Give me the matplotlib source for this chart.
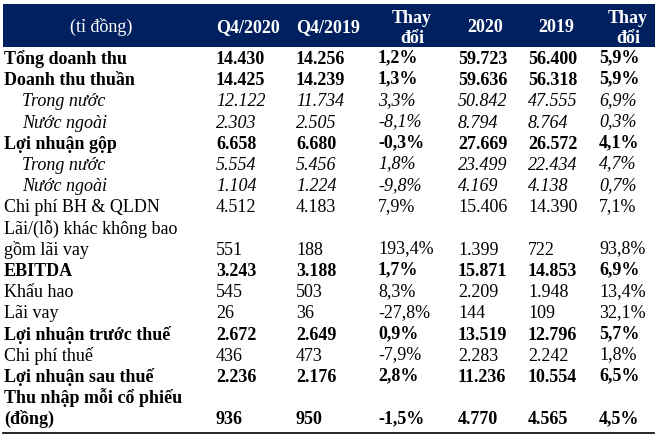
import matplotlib.pyplot as plt
from matplotlib.patches import Rectangle

plt.rcParams['font.family'] = 'Liberation Serif'

# table content
header_unit = '(tỉ đồng)'
col_headers = [['Q4/2020'], ['Q4/2019'], ['Thay', 'đổi'], ['2020'], ['2019'], ['Thay', 'đổi']]

labels = [
    'Tổng doanh thu', 'Doanh thu thuần', 'Trong nước', 'Nước ngoài',
    'Lợi nhuận gộp', 'Trong nước', 'Nước ngoài', 'Chi phí BH & QLDN',
    'Lãi/(lỗ) khác không bao', 'gồm lãi vay', 'EBITDA', 'Khấu hao', 'Lãi vay',
    'Lợi nhuận trước thuế', 'Chi phí thuế', 'Lợi nhuận sau thuế',
    'Thu nhập mỗi cổ phiếu', '(đồng)',
]
styles = ['b', 'b', 'i', 'i', 'b', 'i', 'i', 'n', 'n', 'n', 'b', 'n', 'n',
          'b', 'n', 'b', 'b', 'b']

q4_2020 = ['14.430', '14.425', '12.122', '2.303', '6.658', '5.554', '1.104',
           '4.512', '', '551', '3.243', '545', '26', '2.672', '436', '2.236',
           '', '936']
q4_2019 = ['14.256', '14.239', '11.734', '2.505', '6.680', '5.456', '1.224',
           '4.183', '', '188', '3.188', '503', '36', '2.649', '473', '2.176',
           '', '950']
chg_q4 = ['1,2%', '1,3%', '3,3%', '-8,1%', '-0,3%', '1,8%', '-9,8%', '7,9%',
          '', '193,4%', '1,7%', '8,3%', '-27,8%', '0,9%', '-7,9%', '2,8%',
          '', '-1,5%']
y2020 = ['59.723', '59.636', '50.842', '8.794', '27.669', '23.499', '4.169',
         '15.406', '', '1.399', '15.871', '2.209', '144', '13.519', '2.283',
         '11.236', '', '4.770']
y2019 = ['56.400', '56.318', '47.555', '8.764', '26.572', '22.434', '4.138',
         '14.390', '', '722', '14.853', '1.948', '109', '12.796', '2.242',
         '10.554', '', '4.565']
chg_y = ['5,9%', '5,9%', '6,9%', '0,3%', '4,1%', '4,7%', '0,7%', '7,1%',
         '', '93,8%', '6,9%', '13,4%', '32,1%', '5,7%', '1,8%', '6,5%',
         '', '4,5%']

W, H = 663, 445
fig = plt.figure(figsize=(W / 100, H / 100), dpi=100)
ax = fig.add_axes([0, 0, 1, 1])
ax.set_xlim(0, W)
ax.set_ylim(H, 0)
ax.axis('off')

navy = '#002060'
fs = 13

# header band
ax.add_patch(Rectangle((3, 4), 652, 43, color=navy, lw=0))
ax.text(101, 32, header_unit, color='white', fontsize=fs, ha='center', va='baseline')
head_x = [248, 328, 412, 485, 556, 628]
for x, h in zip(head_x, col_headers):
    if len(h) == 1:
        ys = [32]
    else:
        ys = [23, 43]
    for yy, part in zip(ys, h):
        ax.text(x, yy, part, color='white', fontsize=fs, fontweight='bold',
                ha='center', va='baseline')

col_x = [216, 296, 378, 458, 528, 599]
columns = [q4_2020, q4_2019, chg_q4, y2020, y2019, chg_y]

y0, step = 64, 21.2
for i, lab in enumerate(labels):
    y = y0 + i * step
    st = styles[i]
    kw = dict(fontsize=fs, va='baseline', ha='left', color='black')
    if st == 'b':
        kw['fontweight'] = 'bold'
    elif st == 'i':
        kw['fontstyle'] = 'italic'
    x_lab = 22 if st == 'i' else 4
    ax.text(x_lab, y, lab, **kw)
    for x, col in zip(col_x, columns):
        # the comma descender nudges Agg's bitmap down a little; compensate
        dy = -1.5 if ',' in col[i] else 0
        ax.text(x, y + dy, col[i], **kw)

ax.plot([3, 654], [433, 433], color='black', lw=1.2)

fig.savefig('out.png', dpi=100)
